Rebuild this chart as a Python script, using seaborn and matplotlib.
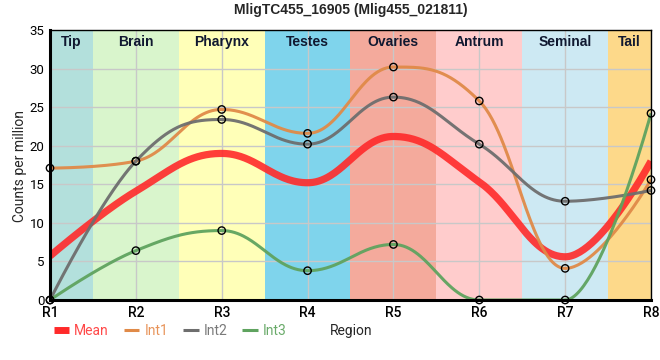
import numpy as np
import pandas as pd
import matplotlib
matplotlib.use('Agg')
import matplotlib.pyplot as plt
import seaborn as sns
from matplotlib.lines import Line2D

# ---- data ----
regions = ['R1', 'R2', 'R3', 'R4', 'R5', 'R6', 'R7', 'R8']
bands = ['Tip', 'Brain', 'Pharynx', 'Testes', 'Ovaries', 'Antrum', 'Seminal', 'Tail']
band_colors = ['#b3e0dc', '#d9f5cc', '#ffffb8', '#7fd4ec', '#f4aa9c', '#ffcccc', '#cde9f3', '#fdd98a']
mean_vals = [5.7, 14.1, 19.0, 15.2, 21.2, 15.3, 5.6, 18.0]
int1 = [17.1, 18.0, 24.7, 21.6, 30.2, 25.8, 4.1, 15.6]
int2 = [0.0, 18.0, 23.4, 20.2, 26.3, 20.2, 12.8, 14.2]
int3 = [0.0, 6.4, 9.0, 3.8, 7.2, 0.0, 0.0, 24.2]
series_names = ['Mean', 'Int1', 'Int2', 'Int3']
series_colors = ['#ff2a2a', '#e08a48', '#6e6e6e', '#5fa35f']
label_colors = ['#ff4a4a', '#e8945a', '#7a7a7a', '#6aab6a']


def spline_path(x, y, n=60, smoothing=1.5):
    """Spline through the points with control points at 40% of each interval,
    clamped so that no false extremes appear."""
    x = np.asarray(x, float)
    y = np.asarray(y, float)
    m = len(x)
    lcx, lcy = x.copy(), y.copy()
    rcx, rcy = x.copy(), y.copy()
    den = smoothing + 1
    for i in range(1, m - 1):
        px, py = x[i], y[i]
        lx, ly = x[i - 1], y[i - 1]
        nx, ny = x[i + 1], y[i + 1]
        lcx_ = (smoothing * px + lx) / den
        lcy_ = (smoothing * py + ly) / den
        rcx_ = (smoothing * px + nx) / den
        rcy_ = (smoothing * py + ny) / den
        corr = 0.0
        if rcx_ != lcx_:
            corr = (rcy_ - lcy_) * (rcx_ - px) / (rcx_ - lcx_) + py - rcy_
        lcy_ += corr
        rcy_ += corr
        if lcy_ > ly and lcy_ > py:
            lcy_ = max(ly, py)
            rcy_ = 2 * py - lcy_
        elif lcy_ < ly and lcy_ < py:
            lcy_ = min(ly, py)
            rcy_ = 2 * py - lcy_
        if rcy_ > ny and rcy_ > py:
            rcy_ = max(ny, py)
            lcy_ = 2 * py - rcy_
        elif rcy_ < ny and rcy_ < py:
            rcy_ = min(ny, py)
            lcy_ = 2 * py - rcy_
        lcx[i], lcy[i], rcx[i], rcy[i] = lcx_, lcy_, rcx_, rcy_
    xs, ys = [], []
    for i in range(m - 1):
        t = np.linspace(0, 1, n, endpoint=(i == m - 2))
        a, b, c, d = (1 - t) ** 3, 3 * (1 - t) ** 2 * t, 3 * (1 - t) * t ** 2, t ** 3
        xs.append(a * x[i] + b * rcx[i] + c * lcx[i + 1] + d * x[i + 1])
        ys.append(a * y[i] + b * rcy[i] + c * lcy[i + 1] + d * y[i + 1])
    return np.concatenate(xs), np.concatenate(ys)


sns.set_theme(style='white')
plt.rcParams['font.family'] = ['Liberation Sans', 'DejaVu Sans']

fig = plt.figure(figsize=(6.6, 3.6), dpi=100)
ax = fig.add_axes([50 / 660, 1 - 300 / 360, 601 / 660, 270 / 360])

xpos = np.arange(len(regions))

# background bands
edges = [0, 0.5, 1.5, 2.5, 3.5, 4.5, 5.5, 6.5, 7]
for i, (b, c) in enumerate(zip(bands, band_colors)):
    ax.axvspan(edges[i], edges[i + 1], color=c, lw=0, zorder=0)
    ax.text((edges[i] + edges[i + 1]) / 2, 33.4, b, ha='center', va='center',
            fontsize=10, fontweight='bold', color='#101830', zorder=5)

# grid
for xv in xpos:
    ax.axvline(xv, color='#c8c8c8', lw=1, zorder=1)
for yv in range(5, 35, 5):
    ax.axhline(yv, color='#c8c8c8', lw=1, zorder=1)

all_vals = [mean_vals, int1, int2, int3]
for name, vals, col in zip(series_names, all_vals, series_colors):
    sx, sy = spline_path(xpos, vals)
    df = pd.DataFrame({'x': sx, 'y': sy})
    lw = 5.2 if name == 'Mean' else 2.2
    sns.lineplot(data=df, x='x', y='y', ax=ax, color=col, lw=lw, sort=False,
                 estimator=None, alpha=0.9 if name == 'Mean' else 0.95, zorder=3,
                 solid_capstyle='butt')

for name, vals in zip(series_names[1:], all_vals[1:]):
    ax.scatter(xpos, vals, s=28, facecolors='none', edgecolors='black',
               linewidths=1, zorder=6, clip_on=False)

ax.set_xlim(0, 7)
ax.set_ylim(0, 35)
ax.set_xticks(xpos)
ax.set_xticklabels(regions, fontsize=10, family=['Roboto', 'DejaVu Sans'], fontweight='medium')
ax.set_yticks(range(0, 36, 5))
ax.set_yticklabels([str(v) for v in range(0, 36, 5)], fontsize=9.5,
                   family=['Roboto', 'DejaVu Sans'])
ax.tick_params(axis='both', length=0, pad=4, colors='black')
ax.set_xlabel('')
ax.set_ylabel('')

for side in ['left', 'bottom']:
    ax.spines[side].set_color('black')
    ax.spines[side].set_linewidth(2.2)
for side in ['top', 'right']:
    ax.spines[side].set_color('black')
    ax.spines[side].set_linewidth(1)
for sp in ax.spines.values():
    sp.set_zorder(7)

fig.text(351 / 660, 1 - 10 / 360, 'MligTC455_16905 (Mlig455_021811)', ha='center',
         va='center', fontsize=10, fontweight='bold')
fig.text(20 / 660, 1 - 166 / 360, 'Counts per million', rotation=90, ha='center',
         va='center', fontsize=10, family=['Roboto', 'DejaVu Sans'])
fig.text(351 / 660, 1 - 331 / 360, 'Region', ha='center', va='center', fontsize=10,
         family=['Roboto', 'DejaVu Sans'])

handles = [Line2D([0], [0], color=c, lw=(5 if n == 'Mean' else 2.2), solid_capstyle='butt')
           for n, c in zip(series_names, series_colors)]
leg = fig.legend(handles, series_names, loc='center left',
                 bbox_to_anchor=(54 / 660, 1 - 331 / 360), ncol=4, frameon=False,
                 handlelength=1.1, handletextpad=0.35, columnspacing=1.1, borderpad=0,
                 borderaxespad=0,
                 prop={'family': ['Roboto', 'DejaVu Sans'], 'size': 10})
for txt, c in zip(leg.get_texts(), label_colors):
    txt.set_color(c)

fig.savefig('out.png', dpi=100)
